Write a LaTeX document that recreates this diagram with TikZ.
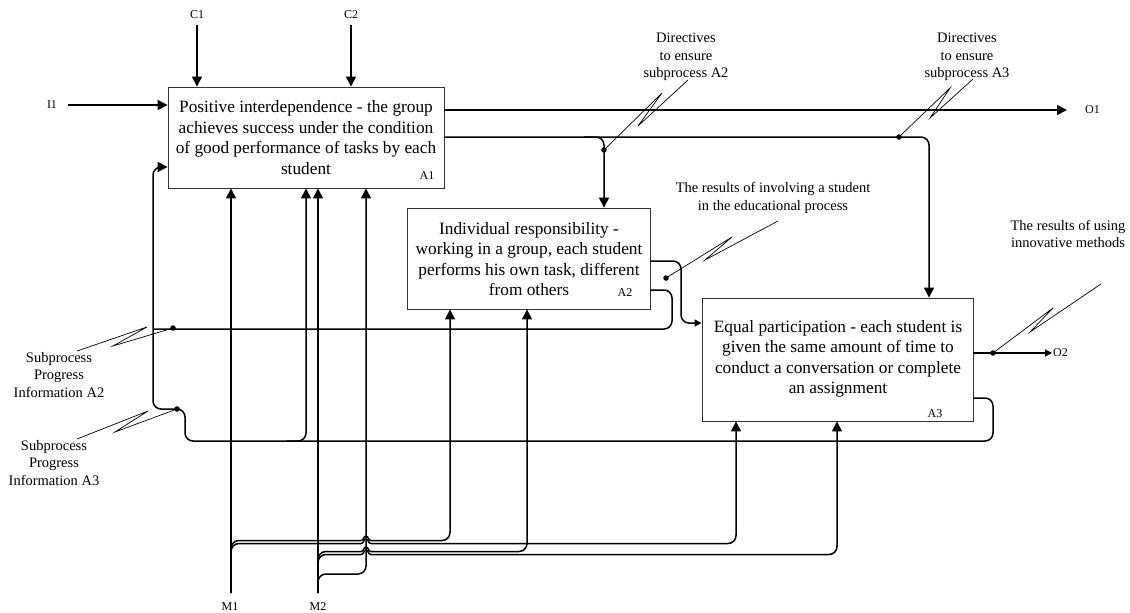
\documentclass[tikz,border=0pt]{standalone}
\usepackage{fontspec}
\setmainfont{Liberation Serif}
\usetikzlibrary{arrows.meta}
\begin{document}
\begin{tikzpicture}[x=1pt,y=-1pt,
  box/.style={draw=black!80, line width=0.9pt, fill=white, inner sep=0pt},
  boxtext/.style={align=center, font=\fontsize{17.3}{20.5}\selectfont, inner sep=0pt},
  lbl/.style={align=center, font=\fontsize{14.5}{17.3}\selectfont, inner sep=0pt},
  tag/.style={font=\fontsize{12}{14}\selectfont, inner sep=0pt},
  conn/.style={line width=1.5pt, rounded corners=8pt},
  hop/.style={line width=1.5pt},
  arr/.style={conn, -{Triangle[length=10pt,width=10pt]}},
  sarr/.style={conn, -{Triangle[length=7pt,width=7pt]}},
  tline/.style={line width=0.7pt},
  dot/.style={circle, fill=black, inner sep=0pt, minimum size=5.5pt},
]
\useasboundingbox (0,0) rectangle (1130,613);

% boxes
\node[box, minimum width=276pt, minimum height=101pt] (A1) at (306,137.5) {};
\node[boxtext] (A1t) at (306,137.5) {Positive interdependence - the group\\achieves success under the condition\\of good performance of tasks by each\\student};
\node[tag] (A1l) at (427,176) {A1};

\node[box, minimum width=243pt, minimum height=101pt] (A2) at (528.5,258.5) {};
\node[boxtext] (A2t) at (529,259) {Individual responsibility -\\working in a group, each student\\performs his own task, different\\from others};
\node[tag] (A2l) at (625,293) {A2};

\node[box, minimum width=271pt, minimum height=123pt] (A3) at (837.5,359.5) {};
\node[boxtext] (A3t) at (838,359) {Equal participation - each student is\\given the same amount of time to\\conduct a conversation or complete\\an assignment};
\node[tag] (A3l) at (935,414) {A3};

% controls and input
\node[tag] (C1l) at (197,15) {C1};
\node[tag] (C2l) at (351,15) {C2};
\coordinate (c1s) at (197,25);
\coordinate (c2s) at (351,25);
\draw[arr] (c1s) -- (c1s |- A1.north);
\draw[arr] (c2s) -- (c2s |- A1.north);
\node[tag] (I1l) at (52,105) {I1};
\coordinate (i1s) at (68,105);
\draw[arr] (i1s) -- (i1s -| A1.west);

% output O1
\coordinate (o1e) at (1067,110);
\draw[arr] (o1e -| A1.east) -- (o1e);
\node[tag, anchor=west] (O1l) at (1085,110) {O1};

% lower output of A1
\coordinate (a3c) at (929,137);
\draw[arr] (a3c -| A1.east) -- (a3c) -- (a3c |- A3.north);
\coordinate (a2c) at (604,137);
\draw[arr] ([xshift=-20pt]a2c) -- (a2c) -- (a2c |- A2.north);

% A2 outputs
\coordinate (p1) at (681,261);
\coordinate (p2) at (681,323);
\draw[sarr] (p1 -| A2.east) -- (p1) -- (p2) -- (p2 -| A3.west);
\coordinate (q1) at (672,290);
\coordinate (q2) at (672,329);
\coordinate (q3) at (153,329);
\draw[conn] (q1 -| A2.east) -- (q1) -- (q2) -- (q3);

% A3 feedback
\coordinate (r1) at (993,398);
\coordinate (r2) at (993,441);
\coordinate (r3) at (185,441);
\coordinate (r4) at (185,409);
\coordinate (r5) at (153,409);
\coordinate (r6) at (153,167);
\draw[arr] (r1 -| A3.east) -- (r1) -- (r2) -- (r3) -- (r4) -- (r5) -- (r6) -- (r6 -| A1.west);
\coordinate (r7) at (306,441);
\draw[arr] ([xshift=-20pt]r7) -- (r7) -- (r7 |- A1.south);

% output O2
\coordinate (o2e) at (1052,353);
\draw[sarr] (o2e -| A3.east) -- (o2e);
\node[tag, anchor=west] (O2l) at (1053,353) {O2};

% mechanisms
\node[tag] (M1l) at (230,607) {M1};
\node[tag] (M2l) at (318,607) {M2};
\coordinate (m1s) at (231,593);
\coordinate (m2s) at (318,593);
\draw[arr] (m1s) -- (m1s |- A1.south);
\draw[arr] (m2s) -- (m2s |- A1.south);

% M1 -> A2
\coordinate (m1a) at (231,540.5);
\coordinate (h1a) at (361,540.5);
\coordinate (h1b) at (371,540.5);
\coordinate (m1b) at (450,540.5);
\draw[conn] (m1s) -- (m1a) -- (h1a);
\draw[hop] (h1a) .. controls (364,540.5) and (363.5,536) .. (366,536) .. controls (368.5,536) and (368,540.5) .. (h1b);
\draw[arr] (h1b) -- (m1b) -- (m1b |- A2.south);
% M1 -> A3
\coordinate (m1c) at (231,543.5);
\coordinate (h2a) at (361,543.5);
\coordinate (h2b) at (371,543.5);
\coordinate (m1d) at (736,543.5);
\draw[conn] (m1s) -- (m1c) -- (h2a);
\draw[hop] (h2a) .. controls (364,543.5) and (363.5,539) .. (366,539) .. controls (368.5,539) and (368,543.5) .. (h2b);
\draw[arr] (h2b) -- (m1d) -- (m1d |- A3.south);
% M2 -> A2
\coordinate (m2a) at (318,551.5);
\coordinate (h3a) at (361,551.5);
\coordinate (h3b) at (371,551.5);
\coordinate (m2b) at (527,551.5);
\draw[conn] (m2s) -- (m2a) -- (h3a);
\draw[hop] (h3a) .. controls (364,551.5) and (363.5,547) .. (366,547) .. controls (368.5,547) and (368,551.5) .. (h3b);
\draw[arr] (h3b) -- (m2b) -- (m2b |- A2.south);
% M2 -> A3
\coordinate (m2c) at (318,554.5);
\coordinate (h4a) at (361,554.5);
\coordinate (h4b) at (371,554.5);
\coordinate (m2d) at (837,554.5);
\draw[conn] (m2s) -- (m2c) -- (h4a);
\draw[hop] (h4a) .. controls (364,554.5) and (363.5,550) .. (366,550) .. controls (368.5,550) and (368,554.5) .. (h4b);
\draw[arr] (h4b) -- (m2d) -- (m2d |- A3.south);
% M2 -> A1 (right)
\coordinate (m2e) at (318,574);
\coordinate (m2f) at (366,574);
\draw[arr] (m2s) -- (m2e) -- (m2f) -- (m2f |- A1.south);

% dots
\node[dot] (d1) at (604,150) {};
\node[dot] (d2) at (899,137) {};
\node[dot] (d3) at (666,278) {};
\node[dot] (d4) at (993,353) {};
\node[dot] (d5) at (173,328) {};
\node[dot] (d6) at (177,409) {};

% labels
\node[lbl] (dA2) at (686,57) {Directives\\to ensure\\subprocess A2};
\node[lbl] (dA3) at (967,57) {Directives\\to ensure\\subprocess A3};
\node[lbl] (rInv) at (773,198) {The results of involving a student\\in the educational process};
\node[lbl] (rInn) at (1068,234) {The results of using\\innovative methods};
\node[lbl] (sA2) at (59,375) {Subprocess\\Progress\\Information A2};
\node[lbl] (sA3) at (54,463) {Subprocess\\Progress\\Information A3};

% squiggles
\draw[tline] (688,80) -- (638,126) -- (662,93) -- (d1.center);
\draw[tline] (973,79) -- (930,118) -- (950,88) -- (d2.center);
\draw[tline] (778,221) -- (705,260) -- (732,237) -- (d3.center);
\draw[tline] (1101,284) -- (1030,332) -- (1053,308) -- (d4.center);
\draw[tline] (77,351) -- (147,327) -- (113,346) -- (d5.center);
\draw[tline] (77,439) -- (148,411) -- (115,432) -- (d6.center);
\end{tikzpicture}
\end{document}
